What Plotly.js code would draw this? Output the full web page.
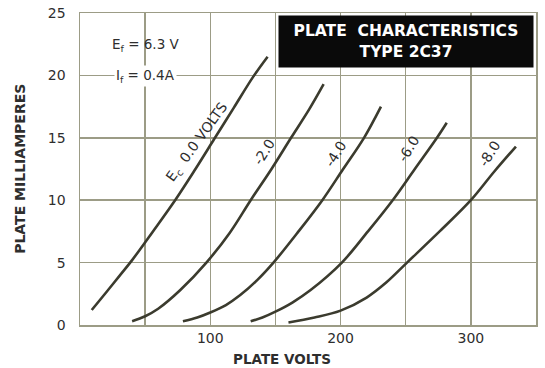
<!DOCTYPE html>
<html>
<head>
<meta charset="utf-8">
<script src="https://cdn.plot.ly/plotly-3.0.1.min.js"></script>
<style>
html,body{margin:0;padding:0;background:#fff;}
#chart{width:545px;height:368px;}
</style>
</head>
<body>
<div id="chart"></div>
<script>
// Plate volts / plate milliamperes, one pair of arrays per grid bias
var vp0 = [9, 20, 30, 40, 56, 73, 88, 103, 118, 133, 144];
var ip0 = [1.2, 2.6, 3.9, 5.2, 7.5, 10, 12.4, 14.9, 17.4, 19.9, 21.5];
var vp2 = [40, 50, 60, 77, 97, 115, 131, 147, 162, 176, 187];
var ip2 = [0.3, 0.7, 1.3, 2.8, 5.0, 7.4, 10, 12.5, 15, 17.3, 19.3];
var vp4 = [79, 90, 100, 112, 123, 136, 148.5, 167, 186, 202, 218, 231];
var ip4 = [0.3, 0.6, 1.0, 1.6, 2.4, 3.6, 5.0, 7.4, 10, 12.5, 15, 17.5];
var vp6 = [131, 140, 150, 163, 177, 201, 221, 240, 257, 274, 281.5];
var ip6 = [0.3, 0.6, 1.07, 1.8, 2.8, 5.0, 7.5, 10, 12.5, 15, 16.2];
var vp8 = [160, 180, 200, 220, 235, 251, 276, 300, 318, 334.6];
var ip8 = [0.2, 0.6, 1.15, 2.2, 3.4, 5.0, 7.5, 10, 12.3, 14.3];

var curveNames = ["Ec 0.0 VOLTS", "-2.0", "-4.0", "-6.0", "-8.0"];
var xTickVals = [0, 50, 100, 150, 200, 250, 300, 350];
var xTickText = ["", "", "100", "", "200", "", "300", ""];
var yTickVals = [0, 5, 10, 15, 20, 25];

var ink = "#3b3b2e";
var grid = "#9c9c86";
var txt = "#2e2e2e";

var xs = [vp0, vp2, vp4, vp6, vp8];
var ys = [ip0, ip2, ip4, ip6, ip8];
var traces = xs.map(function(x, i){
  return {x: x, y: ys[i], type: "scatter", mode: "lines", name: curveNames[i],
    line: {color: ink, width: 2.6, shape: "spline", smoothing: 1}, hoverinfo: "skip"};
});

var lblFont = {family: "DejaVu Sans, Verdana, sans-serif", size: 14, color: txt};
var annotations = [
  {x: 90, y: 14.7, text: "E<sub>c</sub>  0.0 VOLTS", textangle: -54, showarrow: false, font: lblFont},
  {x: 141, y: 13.9, text: "-2.0", textangle: -58, showarrow: false, font: lblFont},
  {x: 196, y: 13.7, text: "-4.0", textangle: -58, showarrow: false, font: lblFont},
  {x: 252, y: 14.1, text: "-6.0", textangle: -58, showarrow: false, font: lblFont},
  {x: 314, y: 13.7, text: "-8.0", textangle: -58, showarrow: false, font: lblFont},
  {x: 51, y: 22.45, text: "E<sub>f</sub> = 6.3 V", showarrow: false,
   font: {family: "DejaVu Sans, Verdana, sans-serif", size: 13.5, color: txt}},
  {x: 50, y: 19.95, text: "I<sub>f</sub> = 0.4A", showarrow: false,
   font: {family: "DejaVu Sans, Verdana, sans-serif", size: 13.5, color: txt}, bgcolor: "#ffffff", borderpad: 1},
  {xref: "paper", yref: "paper", x: 0.716, y: 0.909, xanchor: "center", yanchor: "middle",
   text: "<b>PLATE  CHARACTERISTICS</b><br><b>TYPE 2C37</b>", showarrow: false,
   bgcolor: "#0a0a0a", width: 250, height: 47, borderpad: 2,
   font: {family: "DejaVu Sans, Verdana, sans-serif", size: 15.5, color: "#ffffff"}},
  {xref: "paper", yref: "paper", x: 0.444, y: -0.108, xanchor: "center", yanchor: "middle",
   text: "<b>PLATE VOLTS</b>", showarrow: false,
   font: {family: "DejaVu Sans, Verdana, sans-serif", size: 13.5, color: txt}},
  {xref: "paper", yref: "paper", x: -0.132, y: 0.5, xanchor: "center", yanchor: "middle",
   text: "<b>PLATE MILLIAMPERES</b>", textangle: -90, showarrow: false,
   font: {family: "DejaVu Sans, Verdana, sans-serif", size: 14, color: txt}}
];

var layout = {
  width: 545, height: 368,
  margin: {l: 80, r: 9, t: 13, b: 43, pad: 0},
  paper_bgcolor: "#ffffff", plot_bgcolor: "#ffffff",
  showlegend: false,
  font: {family: "DejaVu Sans, Verdana, sans-serif", color: txt},
  xaxis: {range: [0, 350], tickmode: "array", tickvals: xTickVals, ticktext: xTickText,
    showgrid: true, gridcolor: grid, gridwidth: 1.5, zeroline: false,
    showline: true, linecolor: grid, linewidth: 1.5, mirror: true, ticks: "",
    tickfont: {size: 14, color: txt}, fixedrange: true},
  yaxis: {range: [0, 25], tickmode: "array", tickvals: yTickVals,
    showgrid: true, gridcolor: grid, gridwidth: 1.5, zeroline: false,
    showline: true, linecolor: grid, linewidth: 1.5, mirror: true, ticks: "",
    ticklabelstandoff: 10,
    tickfont: {size: 14, color: txt}, fixedrange: true},
  annotations: annotations
};

Plotly.newPlot("chart", traces, layout, {displayModeBar: false, staticPlot: true});
</script>
</body>
</html>
